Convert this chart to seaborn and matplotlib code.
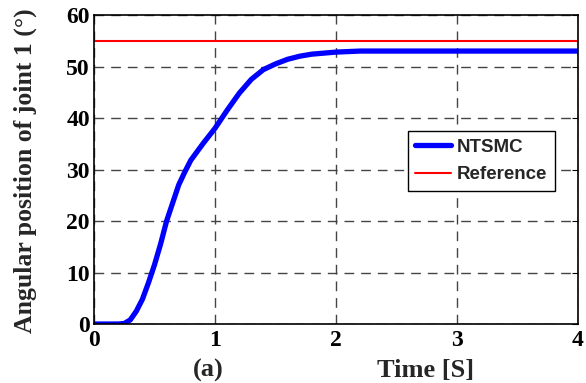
import numpy as np
import pandas as pd
import matplotlib
matplotlib.use("Agg")
import matplotlib.pyplot as plt
import seaborn as sns

time_s = [0, 0.2, 0.25, 0.3, 0.35, 0.4, 0.45, 0.5, 0.55, 0.6, 0.65, 0.7, 0.75, 0.8,
          0.9, 1.0, 1.1, 1.2, 1.3, 1.4, 1.5, 1.6, 1.7, 1.8, 2.0, 2.2, 2.5, 3.0, 4.0]
ntsmc = [0, 0, 0.1, 0.8, 2.5, 4.8, 8.0, 11.5, 15.5, 20.0, 23.5, 27.0, 29.5, 31.8,
         35.0, 38.0, 41.5, 44.8, 47.5, 49.4, 50.5, 51.4, 52.0, 52.4, 52.8, 53.0, 53.0, 53.0, 53.0]
ref_t = [0, 4]
reference = [55, 55]
xticks = [0, 1, 2, 3, 4]
yticks = [0, 10, 20, 30, 40, 50, 60]

sns.set_style("white")
plt.rcParams['font.family'] = ['Liberation Serif', 'DejaVu Serif']
plt.rcParams['font.weight'] = 'bold'

fig = plt.figure(figsize=(5.86, 3.83), dpi=100)
ax = fig.add_axes([0.1604, 0.154, 0.8259, 0.8068])

df = pd.DataFrame({"t": time_s, "v": ntsmc})
dr = pd.DataFrame({"t": ref_t, "v": reference})
sns.lineplot(data=df, x="t", y="v", ax=ax, color="#0000ff", linewidth=3.8, label="NTSMC")
sns.lineplot(data=dr, x="t", y="v", ax=ax, color="#ff0000", linewidth=1.5, label="Reference")

ax.set_xlim(0, 4)
ax.set_ylim(0, 60)
ax.set_xticks(xticks)
ax.set_yticks(yticks)
ax.set_xticklabels([str(v) for v in xticks], fontsize=17, fontweight='bold')
ax.set_yticklabels([str(v) for v in yticks], fontsize=17, fontweight='bold')
ax.tick_params(axis='y', direction='in', length=4, right=True, pad=3, colors='black')
ax.tick_params(axis='x', direction='in', length=4, top=False, pad=4, colors='black')
ax.grid(True, linestyle=(0, (7, 5)), color='#444444', linewidth=1.0)
for s in ax.spines.values():
    s.set_color('black')
    s.set_linewidth(1.2)
ax.set_xlabel("")
ax.set_ylabel("")
fig.text(25 / 586, 1 - 170.5 / 383, "Angular position of joint 1 (°)", rotation=90,
         ha='center', va='center', fontsize=18.5, fontweight='bold')
fig.text(426 / 586, 1 - 370 / 383, "Time [S]", ha='center', va='center', fontsize=19, fontweight='bold')
fig.text(208 / 586, 1 - 370 / 383, "(a)", ha='center', va='center', fontsize=19, fontweight='bold')

leg = ax.legend(loc='upper left', bbox_to_anchor=((408 - 94) / 484, 1 - (131 - 15) / 309),
                frameon=True, fancybox=False, edgecolor='black', framealpha=1,
                prop={'family': ['Liberation Sans'], 'weight': 'bold', 'size': 13.5},
                handlelength=1.9, borderpad=0.4, borderaxespad=0,
                labelspacing=0.55, handletextpad=0.3)
leg.get_frame().set_linewidth(1.0)

fig.savefig("out.png", dpi=100)
